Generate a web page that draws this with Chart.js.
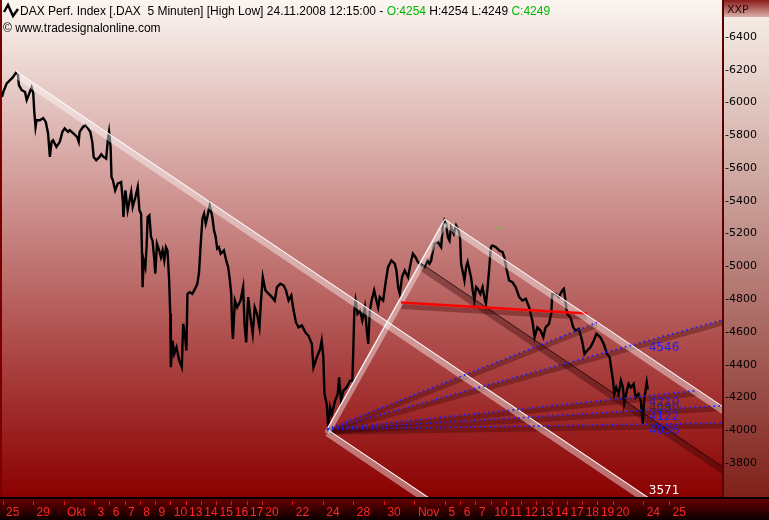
<!DOCTYPE html>
<html><head><meta charset="utf-8">
<script src="https://cdn.jsdelivr.net/npm/chart.js@4.4.1/dist/chart.umd.min.js"></script>
<style>html,body{margin:0;padding:0;background:#000;}canvas{display:block}</style>
</head><body>
<canvas id="c" width="769" height="520"></canvas>
<script>
// ---- price path (trading-day index from 25 Sep 2008, DAX points) ----
const priceDay = [-0.07,0.02,0.24,0.46,0.65,0.85,0.98,1.04,1.22,1.44,
1.55,1.72,1.87,1.98,2.04,2.13,2.20,2.41,2.63,2.80,
2.95,3.07,3.18,3.28,3.50,3.72,3.89,4.04,4.26,4.37,
4.59,4.85,4.96,5.02,5.24,5.41,5.56,5.72,5.85,5.94,
6.11,6.33,6.44,6.59,6.76,6.87,6.95,7.05,7.11,7.20,
7.35,7.52,7.74,7.85,7.89,8.02,8.17,8.40,8.50,8.68,
8.83,8.94,9.05,9.11,9.15,9.22,9.33,9.41,9.48,9.59,
9.70,9.80,9.92,9.98,10.09,10.24,10.35,10.46,10.57,10.68,
10.78,10.89,10.96,11.00,11.11,11.22,11.37,11.55,11.72,11.81,
11.94,12.02,12.09,12.24,12.41,12.64,12.74,12.85,12.96,13.07,
13.18,13.29,13.39,13.55,13.72,13.83,13.94,14.04,14.15,14.27,
14.48,14.63,14.76,14.87,14.96,15.02,15.07,15.20,15.35,15.57,
15.74,15.83,15.94,16.07,16.22,16.37,16.50,16.65,16.81,16.91,
17.03,17.20,17.42,17.63,17.81,17.96,18.18,18.40,18.55,18.72,
18.90,19.05,19.20,19.37,19.59,19.83,20.02,20.24,20.35,20.57,
20.79,20.89,21.00,21.07,21.22,21.33,21.44,21.55,21.77,21.94,
22.03,22.16,22.31,22.52,22.75,22.90,22.96,23.03,23.11,23.24,
23.40,23.55,23.72,23.83,23.94,24.05,24.16,24.33,24.48,24.59,
24.70,24.92,25.07,25.24,25.46,25.68,25.79,25.90,26.01,26.16,
26.33,26.55,26.76,26.87,27.04,27.20,27.42,27.64,27.81,27.96,
28.07,28.18,28.29,28.51,28.72,28.83,28.94,29.05,29.16,29.27,
29.37,29.55,29.70,29.86,29.96,30.03,30.14,30.25,30.36,30.46,
30.68,30.79,30.90,31.01,31.12,31.29,31.44,31.55,31.66,31.77,
31.88,31.98,32.09,32.31,32.53,32.75,32.86,33.03,33.18,33.40,
33.61,33.84,34.05,34.27,34.49,34.70,34.85,35.03,35.24,35.42,
35.57,35.79,35.94,36.01,36.22,36.44,36.66,36.77,36.87,36.98,
37.20,37.38,37.53,37.75,37.96,38.12,38.29,38.51,38.73,38.90,
39.16,39.38,39.60,39.77,39.86,39.99,40.07,40.20,40.36,40.51,
40.64,40.72,40.85,41.01,41.16,41.34,41.47,41.66,41.81,41.94,
42.03,42.12,42.20,42.27];
const priceValue = [6035,6065,6117,6137,6155,6182,6168,6106,6076,6064,
6015,6056,6092,6057,5954,5851,5892,5892,5905,5882,
5813,5668,5760,5770,5729,5760,5821,5842,5821,5831,
5813,5790,5760,5821,5851,5862,5842,5821,5760,5668,
5648,5668,5684,5668,5658,5770,5821,5729,5546,5525,
5464,5505,5515,5403,5301,5464,5342,5454,5362,5423,
5484,5342,5322,5077,4873,5036,4995,5117,5301,5311,
5179,5158,5036,4955,5138,5097,5056,5097,5036,5117,
5097,4914,4710,4384,4547,4465,4506,4424,4384,4649,
4567,4486,4832,4842,4832,4873,4894,4965,5138,5291,
5322,5261,5301,5372,5301,5220,5179,5108,5117,5077,
5097,5036,4995,4914,4832,4628,4557,4791,4750,4791,
4873,4649,4536,4812,4689,4588,4750,4710,4628,4791,
4934,4853,4832,4812,4791,4873,4894,4883,4853,4791,
4822,4730,4659,4628,4639,4596,4577,4527,4384,4445,
4496,4547,4445,4221,4160,4007,4139,4099,4180,4221,
4322,4180,4241,4261,4302,4302,4486,4730,4791,4710,
4730,4669,4750,4628,4527,4730,4791,4853,4791,4750,
4812,4791,4894,4995,5036,5016,4975,4873,4832,4934,
4975,4934,5036,5077,5056,5026,5006,4995,5036,5016,
5036,5097,5138,5148,5117,5240,5281,5261,5179,5158,
5240,5199,5250,5220,5179,5016,4965,4914,4995,5026,
4934,4853,4791,4873,4863,4832,4873,4812,4771,4873,
4995,5117,5128,5117,5097,5087,5056,4975,4914,4903,
4873,4812,4791,4802,4750,4669,4567,4628,4608,4567,
4628,4649,4710,4832,4832,4812,4853,4863,4791,4710,
4689,4628,4608,4618,4547,4465,4486,4506,4547,4588,
4567,4527,4465,4445,4384,4302,4221,4261,4221,4302,
4261,4160,4221,4282,4261,4282,4200,4221,4180,4040,
4180,4241,4292,4249];

// ---- axis ticks ----
const xTickDays = [0,2,4,6,7,8,9,10,11,12,13,14,15,16,17,19,21,23,25,27,29,30,31,32,33,34,35,36,37,38,39,40,42,43.7];
const xTickLabels = ['25','29','Okt','3','6','7','8','9','10','13','14','15','16','17','20','22','24','28','30','Nov','5','6','7','10','11','12','13','14','17','18','19','20','24','25'];
const yTickValues = [3800,4000,4200,4400,4600,4800,5000,5200,5400,5600,5800,6000,6200,6400];

// ---- drawn lines [day, price] ----
const channelA = [[0.84,6192],[42.6,3569]];
const channelB = [[21.25,4005],[28.5,3550]];
const channelC = [[28.96,5287],[47.2,4142]];
const handleG  = [[21.25,4005],[28.96,5287]];
const lineF    = [[27.40,5018],[47.2,3775]];
const redLine  = [[26.09,4779],[38.29,4712]];
const fanOrigin = [21.25,4005];
const fanEnds = [[38.94,4657],[47.2,4673],[45.47,4241],[47.2,4150],[47.2,4043]];
const greenMark = [[32.45,5232],[32.62,5232]];
const lineLabels = ['4546','4210','4090','4122','4036','3571'];
const lineLabelValues = [4546,4210,4090,4122,4036,3571];

const pts = a => a.map(p => ({x:p[0], y:p[1]}));
function seg(a, style){ return Object.assign({data:pts(a), pointRadius:0, fill:false, tension:0, clip:0, borderCapStyle:'butt'}, style); }

const S = {
  white:{borderColor:'#ffffff', borderWidth:1.1},
  pale:{borderColor:'rgba(255,255,255,0.42)', borderWidth:6, shiftY:4},
  dark:{borderColor:'rgba(20,0,0,0.85)', borderWidth:1},
  darkBand:{borderColor:'rgba(40,0,0,0.35)', borderWidth:6, shiftY:4},
  fanDot:{borderColor:'#1c1cff', borderWidth:1.7, borderDash:[1.7,3.2]},
  fanBand:{borderColor:'rgba(50,0,0,0.32)', borderWidth:5, shiftY:3},
  red:{borderColor:'#ff0000', borderWidth:2.5},
  redBand:{borderColor:'rgba(60,0,0,0.35)', borderWidth:5, shiftY:4},
  green:{borderColor:'#5cc040', borderWidth:2}
};

const datasets = [];
fanEnds.forEach(e => datasets.push(seg([fanOrigin, e], S.fanDot)));
[channelA, channelB, channelC, handleG].forEach(l => datasets.push(seg(l, S.white)));
datasets.push(seg(redLine, S.red));
datasets.push(seg(lineF, S.dark));
[channelA, channelB, channelC, handleG].forEach(l => datasets.push(seg(l, S.pale)));
fanEnds.forEach(e => datasets.push(seg([fanOrigin, e], S.fanBand)));
datasets.push(seg(lineF, S.darkBand));
datasets.push(seg(redLine, S.redBand));
datasets.push(seg(greenMark, S.green));
datasets.push({data: priceDay.map((d,i)=>({x:d, y:priceValue[i]})), borderColor:'#000', borderWidth:2.4, pointRadius:0, fill:false, tension:0, clip:0});

const shiftPlugin = {
  id:'shift',
  beforeDatasetDraw(chart, args){
    const ds = chart.data.datasets[args.index];
    if (ds.shiftY){ const a = chart.chartArea, c = chart.ctx; c.save(); c.beginPath(); c.rect(a.left,a.top,a.right-a.left,a.bottom-a.top); c.clip(); c.translate(0, ds.shiftY); }
  },
  afterDatasetDraw(chart, args){ if (chart.data.datasets[args.index].shiftY) chart.ctx.restore(); }
};

const bgPlugin = {
  id:'bg',
  beforeDraw(chart){
    const c = chart.ctx, a = chart.chartArea, W = chart.width, H = chart.height;
    c.save();
    let g = c.createLinearGradient(0, a.top, 0, a.bottom);
    g.addColorStop(0, '#fbf6f1'); g.addColorStop(1, '#8b0000');
    c.fillStyle = g; c.fillRect(a.left, a.top, a.right-a.left, a.bottom-a.top);
    g = c.createLinearGradient(0, a.top, 0, a.bottom);
    g.addColorStop(0, '#faf3ec'); g.addColorStop(1, '#80201a');
    c.fillStyle = g; c.fillRect(a.right, a.top, W-a.right, a.bottom-a.top);
    g = c.createLinearGradient(0, 0, 0, 17);
    g.addColorStop(0, '#8a1a1a'); g.addColorStop(1, '#d8b0a8');
    c.fillStyle = g; c.fillRect(a.right, 0, W-a.right, 17);
    g = c.createLinearGradient(0, a.bottom, 0, H);
    g.addColorStop(0, '#6e0000'); g.addColorStop(1, '#0c0000');
    c.fillStyle = g; c.fillRect(0, a.bottom, W, H-a.bottom);
    c.restore();
  },
  afterDraw(chart){
    const c = chart.ctx, a = chart.chartArea, W = chart.width;
    const xs = chart.scales.x, ys = chart.scales.y;
    c.save();
    c.fillStyle = '#7a0000'; c.fillRect(0, 0, 2, a.bottom);
    c.fillStyle = '#5a0000'; c.fillRect(a.right-1, 0, 2, a.bottom);
    c.fillStyle = '#000'; c.fillRect(0, a.bottom, W, 2);
    c.fillStyle = '#2a0808'; c.font = '11px "DejaVu Sans"'; c.textBaseline = 'alphabetic';
    c.fillText('XXP', a.right+4, 13);
    c.strokeStyle = '#000'; c.lineWidth = 2.4; c.lineJoin = 'miter';
    c.beginPath(); c.moveTo(4,12); c.lineTo(8,5); c.lineTo(13,16); c.lineTo(18,9); c.stroke();
    c.font = '12px "Liberation Sans"';
    const segs = [['DAX Perf. Index [.DAX  5 Minuten] [High Low] 24.11.2008 12:15:00 - ','#000'],['O:4254','#00b800'],[' H:4254 L:4249 ','#000'],['C:4249','#00b800']];
    let x = 20;
    segs.forEach(s => { c.fillStyle = s[1]; c.fillText(s[0], x, 15); x += c.measureText(s[0]).width; });
    c.fillStyle = '#000';
    c.fillText('\u00A9 www.tradesignalonline.com', 3, 32);
    const lx = xs.getPixelForValue(priceDay[priceDay.length-1]) + 1;
    c.font = '12px "DejaVu Sans"';
    const cols = ['#1c1cff','#1c1cff','#402828','#1c1cff','#1c1cff','#ffffff'];
    lineLabels.forEach((t,i) => {
      let y = ys.getPixelForValue(lineLabelValues[i]);
      if (i === 2) { c.textBaseline = 'bottom'; y = y - 2; }
      else if (i === 5) { c.textBaseline = 'bottom'; y = Math.min(y, a.bottom); }
      else { c.textBaseline = 'top'; y = y + 1; }
      c.fillStyle = cols[i]; c.fillText(t, lx, y);
    });
    c.restore();
  }
};

new Chart(document.getElementById('c').getContext('2d'), {
  type:'line',
  data:{datasets},
  options:{
    responsive:false, animation:false, devicePixelRatio:1, events:[],
    layout:{padding:0},
    plugins:{legend:{display:false}, tooltip:{enabled:false}},
    scales:{
      x:{type:'linear', position:'bottom', min:-0.2, max:47.2,
        afterBuildTicks: s => { s.ticks = xTickDays.map(v => ({value:v})); },
        afterFit: s => { s.height = 23; s.paddingLeft = 0; s.paddingRight = 0; },
        grid:{drawOnChartArea:false, drawTicks:true, tickLength:8, tickColor:'#e01414', tickWidth:1, tickBorderDash:[0,4,4,40]},
        border:{display:false},
        ticks:{autoSkip:false, maxRotation:0, minRotation:0, align:'start', labelOffset:3, padding:0, color:'#ff2626',
          font:{family:'Liberation Sans', size:12}, callback:(v,i) => xTickLabels[i]}
      },
      y:{type:'linear', position:'right', min:3592, max:6626,
        afterBuildTicks: s => { s.ticks = yTickValues.map(v => ({value:v})); },
        afterFit: s => { s.width = 46; s.paddingTop = 0; s.paddingBottom = 0; },
        grid:{drawOnChartArea:false, drawTicks:false},
        border:{display:false},
        ticks:{padding:2, color:'#000', font:{family:'DejaVu Sans', size:11}, callback: v => '-' + v}
      }
    }
  },
  plugins:[bgPlugin, shiftPlugin]
});
</script>
</body></html>
